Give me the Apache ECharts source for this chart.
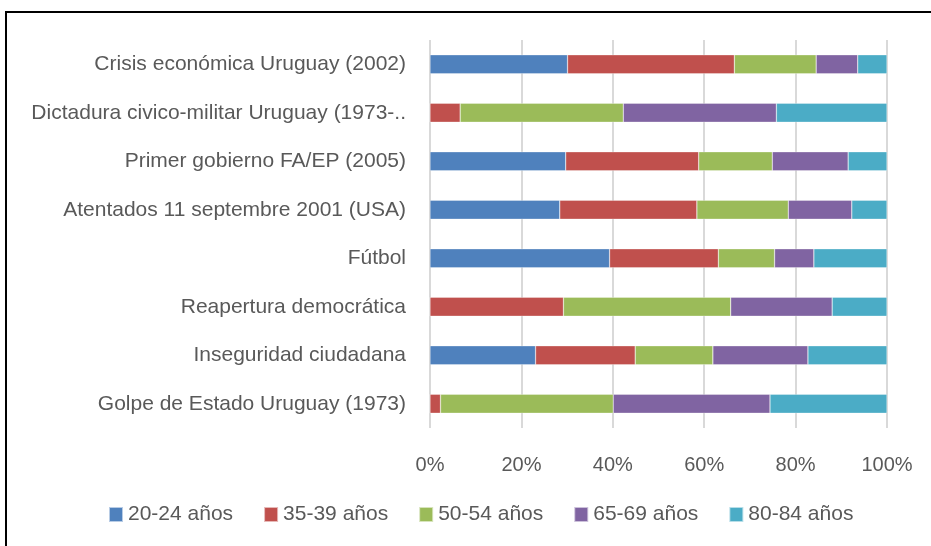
<!DOCTYPE html>
<html>
<head>
<meta charset="utf-8">
<script src="https://cdn.jsdelivr.net/npm/echarts@6/dist/echarts.min.js"></script>
<style>
  html, body { margin: 0; padding: 0; background: #fff; }
  .frame {
    position: absolute; left: 5px; top: 11px; width: 940px; height: 560px;
    border-left: 2px solid #000; border-top: 2px solid #000; box-sizing: border-box;
  }
  #chart { position: absolute; left: 0; top: 0; width: 931px; height: 546px; }
</style>
</head>
<body>
<div class="frame"></div>
<div id="chart"></div>
<script>
const categories = [
  'Crisis económica Uruguay (2002)',
  'Dictadura civico-militar Uruguay (1973-..',
  'Primer gobierno FA/EP (2005)',
  'Atentados 11 septembre 2001 (USA)',
  'Fútbol',
  'Reapertura democrática',
  'Inseguridad ciudadana',
  'Golpe de Estado Uruguay (1973)'
]

const age2024 = [30.1, 0, 29.7, 28.4, 39.3, 0, 23.1, 0]
const age3539 = [36.5, 6.6, 29.1, 30.0, 23.8, 29.2, 21.8, 2.3]
const age5054 = [17.9, 35.7, 16.1, 20.0, 12.3, 36.6, 17.0, 37.8]
const age6569 = [9.1, 33.5, 16.6, 13.9, 8.6, 22.2, 20.8, 34.3]
const age8084 = [6.4, 24.2, 8.5, 7.7, 16.0, 12.0, 17.3, 25.6]

const seriesNames = ['20-24 años', '35-39 años', '50-54 años', '65-69 años', '80-84 años']
const colors = ['#4f81bd', '#c0504d', '#9bbb59', '#8064a2', '#4bacc6']

const font = 'Liberation Sans, Arial, sans-serif'
const chart = echarts.init(document.getElementById('chart'))

function makeSeries(name, data) {
  return {
    name,
    type: 'bar',
    stack: 'total',
    barWidth: 19,
    data,
    itemStyle: { borderColor: 'rgba(255,255,255,0.6)', borderWidth: 0.5 },
    emphasis: { disabled: true }
  }
}

chart.setOption({
  animation: false,
  color: colors,
  textStyle: { fontFamily: font },
  grid: { left: 430, right: 44, top: 40, bottom: 118, containLabel: false },
  legend: {
    top: 504,
    left: 108,
    padding: 0,
    itemWidth: 14,
    itemHeight: 15,
    itemGap: 30,
    icon: 'rect',
    textStyle: { fontSize: 21, color: '#595959', fontFamily: font },
    data: seriesNames
  },
  xAxis: {
    type: 'value',
    min: 0,
    max: 100,
    interval: 20,
    axisLine: { show: false },
    axisTick: { show: false },
    axisLabel: {
      formatter: (v) => v + '%',
      fontSize: 20,
      color: '#595959',
      margin: 27
    },
    splitLine: { lineStyle: { color: '#d9d9d9', width: 2 } }
  },
  yAxis: {
    type: 'category',
    inverse: true,
    data: categories,
    axisLine: { show: false },
    axisTick: { show: false },
    axisLabel: { fontSize: 21, color: '#595959', margin: 24 }
  },
  series: [
    makeSeries(seriesNames[0], age2024),
    makeSeries(seriesNames[1], age3539),
    makeSeries(seriesNames[2], age5054),
    makeSeries(seriesNames[3], age6569),
    makeSeries(seriesNames[4], age8084)
  ]
})
</script>
</body>
</html>
